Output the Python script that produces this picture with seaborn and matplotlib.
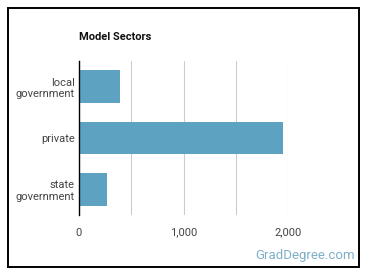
import numpy as np
import pandas as pd
import seaborn as sns
import matplotlib
matplotlib.use("Agg")
import matplotlib.pyplot as plt
from matplotlib.patches import Rectangle

sectors = ["local\ngovernment", "private", "state\ngovernment"]
counts = [395, 1951, 271]
x_ticks = [0, 500, 1000, 1500, 2000]
x_tick_labels = ["0", "", "1,000", "", "2,000"]

df = pd.DataFrame({"sector": sectors, "count": counts})

sns.set_style("white")
plt.rcParams["font.family"] = ["Roboto", "DejaVu Sans"]

W, H = 370, 278
fig = plt.figure(figsize=(W / 100, H / 100), dpi=100)

# outer frame
fig.patches.append(Rectangle((7.5 / W, 1 - 266.5 / H), 351.5 / W, 259 / H,
                             transform=fig.transFigure, fill=False,
                             edgecolor="black", linewidth=1.4))

# plot area: x 79..288 px, y 61..215 px
ax = fig.add_axes([79 / W, 1 - 215 / H, (288 - 79) / W, (215 - 61) / H])

sns.barplot(data=df, x="count", y="sector", color="#5da3c1", width=0.64,
            saturation=1, linewidth=0, edgecolor="none", ax=ax, zorder=3)

ax.set_xlim(0, 2000)
ax.set_ylim(2.5, -0.5)
ax.set_xticks(x_ticks)
ax.set_xticklabels(x_tick_labels)
ax.xaxis.grid(True, color="#cccccc", linewidth=0.8, zorder=0)
ax.set_axisbelow(True)

for s in ["top", "right", "bottom"]:
    ax.spines[s].set_visible(False)
ax.spines["left"].set_color("black")
ax.spines["left"].set_linewidth(1.0)
ax.spines["left"].set_zorder(5)

ax.tick_params(axis="both", length=0, labelsize=8, colors="#444444")
ax.tick_params(axis="x", pad=9)
ax.tick_params(axis="y", pad=3)
for lbl in ax.get_yticklabels():
    lbl.set_horizontalalignment("right")
    lbl.set_multialignment("right")
ax.set_xlabel("")
ax.set_ylabel("")

fig.text(79 / W, 1 - 37 / H, "Model Sectors", fontsize=8, fontweight="bold",
         color="#111111", va="center", ha="left")
fig.text(355 / W, 1 - 255 / H, "GradDegree.com", fontsize=9.5,
         color="#7fb0c8", va="center", ha="right")

fig.savefig("out.png", dpi=100)
